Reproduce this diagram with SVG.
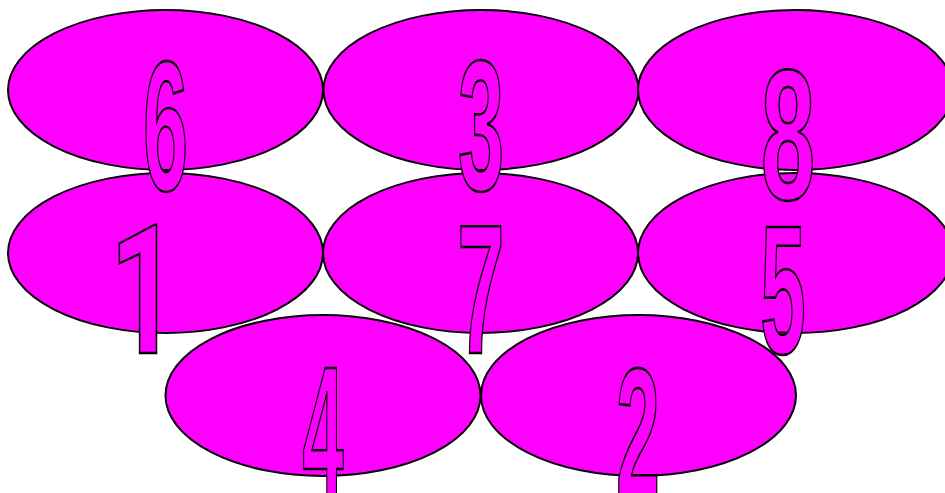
<svg xmlns="http://www.w3.org/2000/svg" width="945" height="493" viewBox="0 0 945 493">
<style>
.e{fill:#ff00ff;stroke:#000;stroke-width:2}
.d{font-family:"Liberation Sans",Arial,sans-serif;font-weight:bold;font-size:100px;fill:#ff00ff;stroke:#000;stroke-width:2;vector-effect:non-scaling-stroke;text-anchor:middle}
.r{font-family:Roboto,"Liberation Sans",sans-serif}
</style>
<rect width="945" height="493" fill="#fff"/>
<g id="connectors"/>
<g id="node4"><ellipse class="e" cx="323" cy="395.5" rx="157.5" ry="80.5"/><text class="d" transform="translate(323,495) scale(0.74,1.83)">4</text></g>
<g id="node2"><ellipse class="e" cx="638.5" cy="395.5" rx="157.5" ry="80.5"/><text class="d" transform="translate(638,496) scale(0.79,1.83)">2</text></g>
<g id="node1"><ellipse class="e" cx="165.5" cy="253" rx="157.5" ry="80"/><text class="d r" transform="translate(144,353) scale(1.2,1.8)">1</text></g>
<g id="node7"><ellipse class="e" cx="480.5" cy="253" rx="157.5" ry="80"/><text class="d" transform="translate(481,353) scale(0.85,1.83)">7</text></g>
<g id="node5"><ellipse class="e" cx="795.5" cy="253" rx="157.5" ry="80"/><text class="d" transform="translate(783,353) scale(0.82,1.83)">5</text></g>
<g id="node6"><ellipse class="e" cx="165.5" cy="90" rx="157.5" ry="80"/><text class="d" transform="translate(165.5,190) scale(0.81,1.85)">6</text></g>
<g id="node3"><ellipse class="e" cx="481" cy="90" rx="157.5" ry="80"/><text class="d" transform="translate(481,190) scale(0.83,1.85)">3</text></g>
<g id="node8"><ellipse class="e" cx="795.5" cy="90" rx="157.5" ry="80"/><text class="d" transform="translate(788,199) scale(0.98,1.85)">8</text></g>
</svg>
